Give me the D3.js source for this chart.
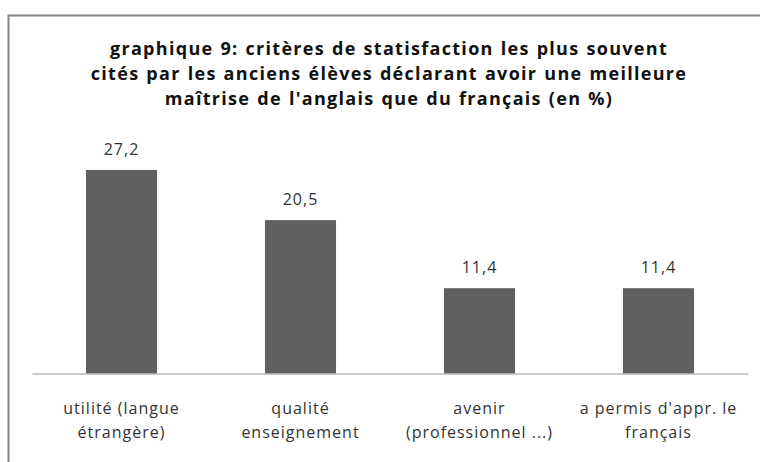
<!DOCTYPE html>
<html>
<head>
<meta charset="utf-8">
<script src="https://cdn.jsdelivr.net/npm/d3@7"></script>
<style>
  body { margin: 0; background: #fff; }
  svg { display: block; font-family: "Open Sans", Lato, sans-serif; }
</style>
</head>
<body>
<svg id="chart" width="760" height="462"></svg>
<script>
// Data
const categories = [
	["utilité (langue", "étrangère)"],
	["qualité", "enseignement"],
	["avenir", "(professionnel ...)"],
	["a permis d'appr. le", "français"]
];
const values = [27.2, 20.5, 11.4, 11.4];
const titleLines = [
	"graphique 9: critères de statisfaction les plus souvent",
	"cités par les anciens élèves déclarant avoir une meilleure",
	"maîtrise de l'anglais que du français (en %)"
];

const svg = d3.select("#chart");
const fmt = v => d3.format(".1f")(v).replace(".", ",");

// Frame
svg.append("rect")
	.attr("x", 8.5)
	.attr("y", 15.5)
	.attr("width", 780)
	.attr("height", 480)
	.attr("fill", "white")
	.attr("stroke", "#868686")
	.attr("stroke-width", 2);

// Scales
const x = d3.scaleBand()
	.domain(d3.range(values.length))
	.range([32, 748])
	.paddingInner(0.603)
	.paddingOuter(0.3015);

const y = d3.scaleLinear()
	.domain([0, 30])
	.range([373.5, 149]);

// Title (one text per line)
svg.append("g")
	.selectAll("text")
	.data(titleLines)
	.join("text")
	.attr("x", 389)
	.attr("y", (d, i) => 55 + i * 25)
	.attr("text-anchor", "middle")
	.style("font-size", "18px")
	.style("font-weight", "bold")
	.style("letter-spacing", "1.3px")
	.style("word-spacing", "1px")
	.style("fill", "#111")
	.text(d => d);

// Bars
svg.append("g")
	.selectAll("rect")
	.data(values)
	.join("rect")
	.attr("x", (d, i) => x(i))
	.attr("width", x.bandwidth())
	.attr("y", d => y(d))
	.attr("height", d => y(0) - y(d))
	.style("fill", "#606060");

// Axis line
const axis = svg.append("g")
	.attr("transform", `translate(0,${y(0)})`)
	.call(d3.axisBottom(x).tickSize(0).tickFormat(""));
axis.select(".domain").attr("stroke", "#9a9a9a").attr("stroke-width", 1.2);

// Value labels
svg.append("g")
	.selectAll("text")
	.data(values)
	.join("text")
	.attr("x", (d, i) => x(i) + x.bandwidth() / 2)
	.attr("y", d => y(d) - 15)
	.attr("text-anchor", "middle")
	.style("font-size", "16px")
	.style("letter-spacing", "1px")
	.style("fill", "#333")
	.text(d => fmt(d));

// Category labels
svg.append("g")
	.selectAll("text")
	.data(categories)
	.join("text")
	.attr("text-anchor", "middle")
	.style("font-size", "16px")
	.style("letter-spacing", "1px")
	.style("fill", "#333")
	.each(function(d, i) {
		d3.select(this).selectAll("tspan")
			.data(d)
			.join("tspan")
			.attr("x", x(i) + x.bandwidth() / 2)
			.attr("y", (t, j) => 414 + j * 24)
			.text(t => t);
	});
</script>
</body>
</html>
